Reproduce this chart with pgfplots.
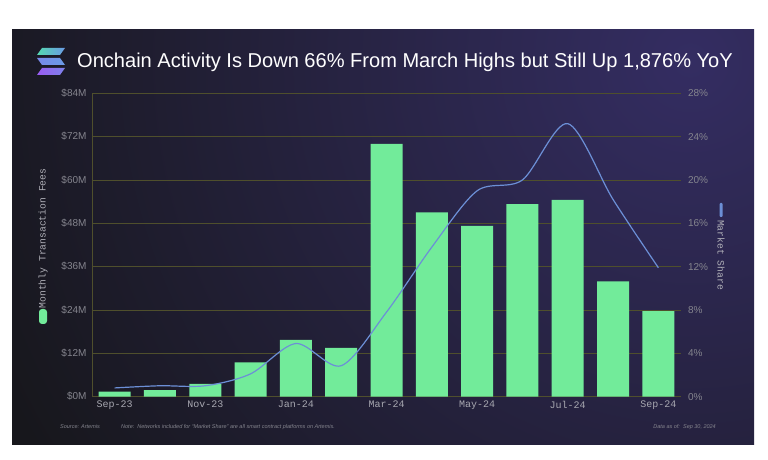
\documentclass[border=0pt]{standalone}
\usepackage{fontspec}
\setmainfont{Liberation Sans}
\newfontfamily\monofont{Liberation Mono}
\usepackage{pgfplots}
\pgfplotsset{compat=1.18}
\definecolor{panel}{HTML}{17171C}
\definecolor{purp}{HTML}{342D62}
\definecolor{gridc}{HTML}{4F4F2C}
\definecolor{barc}{HTML}{72EB9A}
\definecolor{linec}{HTML}{6C8FD6}
\definecolor{tickc}{HTML}{85858E}
\definecolor{lblc}{HTML}{B0B0B8}
\definecolor{logoa}{HTML}{55D8B0}
\definecolor{logob}{HTML}{6A9BE6}
\definecolor{logoc}{HTML}{9A5CF2}
\begin{document}
\begin{tikzpicture}[x=1pt,y=1pt]
\fill[white] (0,0) rectangle (768,460);
\begin{scope}
\clip (12,15) rectangle (754,430);
\fill[panel] (12,15) rectangle (754,430);
\shade[inner color=purp, outer color=panel] (690,400) circle (760);
\end{scope}
% logo
\shade[left color=logoa, right color=logob] (42,412)--(65,412)--(60,405)--(37,405)--cycle;
\shade[left color=logob!70!logoc, right color=logob] (37,402)--(60,402)--(65,395)--(42,395)--cycle;
\shade[left color=logoc, right color=logob!60!logoc] (42,392)--(65,392)--(60,385)--(37,385)--cycle;
% title
\node[anchor=west, text=white, font=\fontsize{20.05}{23}\selectfont, inner sep=0] at (77,398) {Onchain Activity Is Down 66\% From March Highs but Still Up 1,876\% YoY};

\begin{axis}[
  at={(92pt,63.4pt)}, anchor=south west, scale only axis,
  width=589pt, height=303.3pt,
  xmin=-0.5, xmax=12.5, ymin=0, ymax=84,
  axis x line*=bottom, axis y line*=left,
  axis line style={gridc, line width=0.8pt, -},
  ymajorgrids, grid style={gridc, line width=0.8pt},
  major tick length=0pt,
  ytick={0,12,24,36,48,60,72,84},
  yticklabels={\$0M,\$12M,\$24M,\$36M,\$48M,\$60M,\$72M,\$84M},
  xtick={0,2,4,6,8,10,12},
  xticklabels={Sep-23,Nov-23,Jan-24,Mar-24,May-24,Jul-24,Sep-24},
  yticklabel style={font=\fontsize{10}{12}\selectfont, text=tickc, xshift=-2pt},
  xticklabel style={font=\monofont\fontsize{10}{12}\selectfont, text=lblc!80!tickc, yshift=-1pt},
  ybar, bar width=32pt,
]
\addplot[fill=barc, draw=none] coordinates {
(0,1.4) (1,1.8) (2,3.5) (3,9.5) (4,15.7) (5,13.5) (6,70.0) (7,51.0) (8,47.3) (9,53.3) (10,54.5) (11,31.9) (12,23.7)};
\end{axis}

\begin{axis}[
  at={(92pt,63.4pt)}, anchor=south west, scale only axis,
  width=589pt, height=303.3pt,
  xmin=-0.5, xmax=12.5, ymin=0, ymax=28,
  axis x line=none, axis y line*=right,
  y axis line style={draw=none},
  major tick length=0pt,
  ytick={0,4,8,12,16,20,24,28},
  yticklabels={0\%,4\%,8\%,12\%,16\%,20\%,24\%,28\%},
  yticklabel style={font=\fontsize{10}{12}\selectfont, text=tickc, xshift=3.5pt},
]
\addplot[linec, line width=1.2pt, smooth, no markers] coordinates {
(0,0.8) (1,1.0) (2,1.0) (3,2.1) (4,4.9) (5,2.85) (6,7.8) (7,13.8) (8,19.0) (9,20.0) (10,25.2) (11,18.2) (12,11.9)};
\end{axis}

% left legend label
\node[rotate=90, text=lblc, font=\monofont\fontsize{9.7}{11}\selectfont, inner sep=0] at (43,221.5) {Monthly Transaction Fees};
\fill[barc, rounded corners=3pt] (39,136) rectangle (47,151);
% right legend label
\node[rotate=-90, text=lblc, font=\monofont\fontsize{9.7}{11}\selectfont, inner sep=0] at (721,205) {Market Share};
\fill[linec, rounded corners=1pt] (719.5,243) rectangle (722.5,257);
% footnotes
\node[anchor=west, text=tickc, font=\itshape\fontsize{5.5}{7}\selectfont, inner sep=0] at (60,33) {Source: Artemis};
\node[anchor=west, text=tickc, font=\itshape\fontsize{5.5}{7}\selectfont, inner sep=0] at (121,33) {Note:\ \ Networks included for “Market Share” are all smart contract platforms on Artemis.};
\node[anchor=east, text=tickc, font=\itshape\fontsize{5.5}{7}\selectfont, inner sep=0] at (716,33) {Data as of:\ \ Sep 30, 2024};
\end{tikzpicture}
\end{document}
